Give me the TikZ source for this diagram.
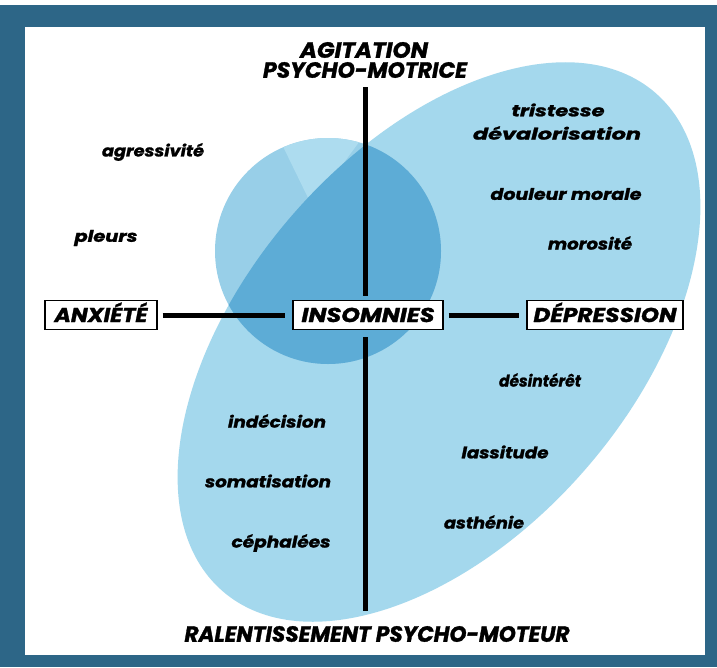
\documentclass[tikz,border=0pt]{standalone}
\usepackage{fontspec}
\newfontfamily\fut{Poppins}[FakeBold=1.4]
\newcommand\fw[2]{\resizebox{#1pt}{\height}{#2}}
\definecolor{frame}{HTML}{2D6687}
\definecolor{ellc}{HTML}{A4D8ED}
\definecolor{circc}{HTML}{98CFE8}
\definecolor{wedgec}{HTML}{ADDCEF}
\definecolor{overc}{HTML}{5DACD6}
\tikzset{
  lbl/.style={font=\fut\bfseries\itshape\fontsize{16}{18}\selectfont, inner sep=0pt},
  axis/.style={font=\fut\bfseries\itshape\fontsize{22}{20}\selectfont, inner sep=0pt, align=center},
  boxlbl/.style={draw=black, line width=1.2pt, fill=white, font=\fut\bfseries\itshape\fontsize{20}{22}\selectfont,
     text height=14pt, text depth=0pt, inner ysep=7.5pt, inner xsep=0pt},
  bar/.style={line width=5pt, black}
}
\begin{document}
\begin{tikzpicture}[x=1pt,y=-1pt]
\useasboundingbox (0,0) rectangle (717,667);
% frame
\fill[frame] (0,5) rectangle (717,667);
\fill[white] (0,0) rectangle (717,5);
\fill[white] (25,27) rectangle (705,655);
% ellipse
\begin{scope}[shift={(439,342)}, rotate=49]
  \fill[ellc] (0,0) ellipse [x radius=330pt, y radius=194pt];
\end{scope}
% circle
\fill[circc] (328,251) circle [radius=113pt];
\begin{scope}
  \clip (328,251) circle [radius=113pt];
  \fill[wedgec] (274,128) -- (312,206) -- (390,100) -- cycle;
  \begin{scope}[shift={(439,342)}, rotate=49]
    \fill[overc] (0,0) ellipse [x radius=330pt, y radius=194pt];
  \end{scope}
\end{scope}
% axis labels
\node[axis] (top1) at (364,50) {\fw{128}{AGITATION}};
\node[axis] (top2) at (365,70) {\fw{204}{PSYCHO-MOTRICE}};
\node[axis] (bot) at (377,634) {\fw{385}{RALENTISSEMENT PSYCHO-MOTEUR}};
% boxes
\node[boxlbl, minimum width=150pt] (ins) at (368,315) {\fw{133}{INSOMNIES}};
\node[boxlbl, minimum width=112pt] (anx) at (101,315) {\fw{93}{ANXIÉTÉ}};
\node[boxlbl, minimum width=156pt] (dep) at (605,315) {\fw{143}{DÉPRESSION}};
\coordinate (vt) at (365,87);
\coordinate (vb) at (365,611);
\draw[bar] (vt) -- ([yshift=4pt]ins.north -| vt);
\draw[bar] ([yshift=-7pt]ins.south -| vt) -- (vb);
\draw[bar] ([xshift=5pt]anx.east) -- ([xshift=-7pt]ins.west);
\draw[bar] ([xshift=5pt]ins.east) -- ([xshift=-7pt]dep.west);
% symptoms
\node[lbl] (agr) at (153,152) {\fw{102}{agressivité}};
\node[lbl] (ple) at (106,238) {\fw{63}{pleurs}};
\node[lbl] (tri) at (558,110) {\fw{93}{tristesse}};
\node[lbl] (dev) at (557,133) {\fw{168}{dévalorisation}};
\node[lbl] (dou) at (566,194) {\fw{151}{douleur morale}};
\node[lbl] (mor) at (590,243) {\fw{84}{morosité}};
\node[lbl] (des) at (540,380) {\fw{82}{désintérêt}};
\node[lbl] (las) at (505,452) {\fw{87}{lassitude}};
\node[lbl] (ast) at (484,522) {\fw{80}{asthénie}};
\node[lbl] (ind) at (277,421) {\fw{98}{indécision}};
\node[lbl] (som) at (268,481) {\fw{126}{somatisation}};
\node[lbl] (cep) at (281,543) {\fw{99}{céphalées}};
\end{tikzpicture}
\end{document}
